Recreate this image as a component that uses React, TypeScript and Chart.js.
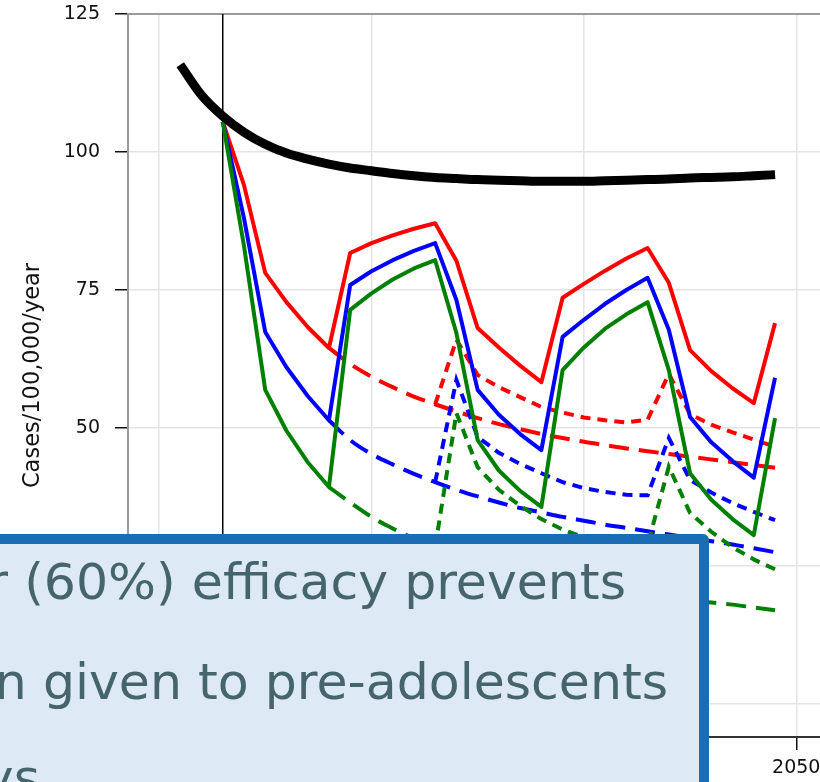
import React, { useEffect, useRef } from "react";
import { Chart, registerables } from "chart.js";

Chart.register(...registerables);

// ---------- data ----------
const years = [
  2021, 2022, 2023, 2024, 2025, 2026, 2027, 2028, 2029, 2030,
  2031, 2032, 2033, 2034, 2035, 2036, 2037, 2038, 2039, 2040,
  2041, 2042, 2043, 2044, 2045, 2046, 2047, 2048, 2049,
];
const solidYears = years.slice(2); // 2023..2049
const dashedYears = years.slice(7); // 2028..2049
const dottedYears = years.slice(12); // 2033..2049

const noVaccine = [
  115.8, 110.3, 106.5, 103.6, 101.4, 99.8, 98.7, 97.8, 97.1, 96.6,
  96.1, 95.7, 95.4, 95.2, 95.0, 94.9, 94.8, 94.7, 94.7, 94.7,
  94.8, 94.9, 95.0, 95.1, 95.3, 95.4, 95.5, 95.7, 95.9,
];

const redSolid = [
  105.5, 94, 78.1, 72.8, 68.3, 64.5, 81.7, 83.5, 84.9, 86.1, 87.1, 80.3, 68.1, 64.6,
  61.3, 58.3, 73.6, 76.1, 78.5, 80.7, 82.6, 76.3, 64.1, 60.3, 57.2, 54.5, 69.0,
];
const blueSolid = [
  105.5, 88, 67.4, 61.0, 55.8, 51.4, 75.9, 78.4, 80.4, 82.1, 83.5, 73.2, 56.9, 52.4,
  48.9, 46.0, 66.5, 69.6, 72.5, 75.0, 77.2, 67.8, 52.0, 47.4, 44.0, 41.0, 59.1,
];
const greenSolid = [
  105.5, 83, 56.9, 49.5, 43.8, 39.3, 71.4, 74.4, 76.9, 78.9, 80.4, 67.2, 47.8, 42.3,
  38.6, 35.7, 60.5, 64.6, 68.0, 70.6, 72.8, 60.5, 41.8, 37.0, 33.5, 30.6, 51.8,
];

const redDashed = [
  64.5, 61.6, 59.3, 57.4, 55.7, 54.3, 53.0, 51.8, 50.7, 49.8, 48.9,
  48.2, 47.5, 46.9, 46.3, 45.8, 45.3, 44.8, 44.3, 43.8, 43.3, 42.8,
];
const blueDashed = [
  51.4, 47.8, 45.3, 43.4, 41.7, 40.2, 38.8, 37.6, 36.5, 35.5, 34.7,
  33.9, 33.2, 32.5, 31.9, 31.3, 30.7, 30.1, 29.5, 28.9, 28.2, 27.5,
];
const greenDashed = [
  39.3, 36.5, 33.9, 31.8, 30.0, 28.4, 27.0, 25.8, 24.7, 23.7, 22.8,
  22.0, 21.3, 20.7, 20.1, 19.6, 19.2, 18.8, 18.4, 18.0, 17.5, 17.0,
];

const redDotted = [
  54.3, 66.0, 59.6, 57.4, 55.6, 53.8, 52.8, 51.9, 51.4, 51.0, 51.5, 59.8, 52.5, 50.6, 49.2, 47.9, 46.6,
];
const blueDotted = [
  40.2, 58.7, 48.4, 45.5, 43.5, 41.8, 40.2, 39.1, 38.4, 37.9, 37.8, 48.2, 40.6, 38.3, 36.4, 34.8, 33.3,
];
const greenDotted = [
  28.4, 52.7, 42.9, 38.8, 35.9, 33.5, 31.6, 30.2, 29.4, 28.9, 28.8, 43.0, 34.6, 31.2, 28.4, 26.2, 24.4,
];

const yTicks = [0, 25, 50, 75, 100, 125];
const xTicks = [2020, 2030, 2040, 2050];
const xRange = [2018.54, 2053.0];
const yRange = [-5.98, 125];
const interventionYear = 2023;
const yAxisTitle = "Cases/100,000/year";
const calloutLines = ["r (60%) efficacy prevents", "n given to pre-adolescents", "ys"];

// ---------- styling ----------
const CANVAS_W = 860;
const CANVAS_H = 800;
const AXIS_LEFT = 128;
const AXIS_BOTTOM = 737;
const PLOT_TOP = 14;

const pts = (xs: number[], ys: number[]) => xs.map((x, i) => ({ x, y: ys[i] }));

const RED = "#ff0000";
const BLUE = "#0000ff";
const GREEN = "#008000";

function solid(label: string, xs: number[], ys: number[], color: string) {
  return {
    label,
    data: pts(xs, ys),
    borderColor: color,
    borderWidth: 4,
    pointRadius: 0,
    tension: 0,
    borderJoinStyle: "round" as const,
    borderCapStyle: "butt" as const,
  };
}
function dashed(label: string, xs: number[], ys: number[], color: string) {
  return {
    label,
    data: pts(xs, ys),
    borderColor: color,
    borderWidth: 4,
    pointRadius: 0,
    cubicInterpolationMode: "monotone" as const,
    borderDash: [20, 10],
    borderCapStyle: "butt" as const,
  };
}
function dotted(label: string, xs: number[], ys: number[], color: string) {
  return {
    label,
    data: pts(xs, ys),
    borderColor: color,
    borderWidth: 4,
    pointRadius: 0,
    tension: 0,
    borderDash: [10, 7],
    borderCapStyle: "butt" as const,
  };
}

const framePlugin = {
  id: "frameAndMarker",
  beforeDatasetsDraw(chart: any) {
    const { ctx, chartArea, scales } = chart;
    ctx.save();
    ctx.strokeStyle = "#9a9a9a";
    ctx.lineWidth = 2;
    ctx.beginPath();
    ctx.moveTo(chartArea.left, chartArea.top);
    ctx.lineTo(chartArea.right, chartArea.top);
    ctx.stroke();
    const x = scales.x.getPixelForValue(interventionYear);
    ctx.strokeStyle = "#000";
    ctx.lineWidth = 1.5;
    ctx.beginPath();
    ctx.moveTo(x, chartArea.top);
    ctx.lineTo(x, chartArea.bottom);
    ctx.stroke();
    ctx.restore();
  },
};

export default function App() {
  const ref = useRef<HTMLCanvasElement | null>(null);

  useEffect(() => {
    if (!ref.current) return;
    const chart = new Chart(ref.current, {
      type: "line",
      data: {
        datasets: [
          {
            label: "No vaccine",
            data: pts(years, noVaccine),
            borderColor: "#000",
            borderWidth: 9,
            pointRadius: 0,
            cubicInterpolationMode: "monotone" as const,
            borderCapStyle: "butt" as const,
          },
          solid("Green", solidYears, greenSolid, GREEN),
          solid("Blue", solidYears, blueSolid, BLUE),
          solid("Red", solidYears, redSolid, RED),
          dotted("Green booster", dottedYears, greenDotted, GREEN),
          dotted("Blue booster", dottedYears, blueDotted, BLUE),
          dotted("Red booster", dottedYears, redDotted, RED),
          dashed("Green single", dashedYears, greenDashed, GREEN),
          dashed("Blue single", dashedYears, blueDashed, BLUE),
          dashed("Red single", dashedYears, redDashed, RED),
        ],
      },
      options: {
        animation: false,
        responsive: false,
        events: [],
        layout: { padding: { top: PLOT_TOP, left: 0, right: 0, bottom: 0 } },
        plugins: { legend: { display: false }, tooltip: { enabled: false } },
        scales: {
          x: {
            type: "linear",
            min: xRange[0],
            max: xRange[1],
            afterFit: (s: any) => {
              s.height = CANVAS_H - AXIS_BOTTOM;
              s.paddingLeft = 0;
              s.paddingRight = 0;
            },
            afterBuildTicks: (s: any) => {
              s.ticks = xTicks.map((v) => ({ value: v }));
            },
            grid: {
              color: "#e4e4e4",
              lineWidth: 1.5,
              tickColor: "#111",
              tickLength: 13,
              tickWidth: 1.5,
            },
            border: { color: "#333", width: 2 },
            ticks: {
              padding: 7,
              color: "#111",
              maxRotation: 0,
              autoSkip: false,
              font: { family: "DejaVu Sans", size: 19 },
              callback: (v: any) => String(v),
            },
          },
          y: {
            type: "linear",
            min: yRange[0],
            max: yRange[1],
            afterFit: (s: any) => {
              s.width = AXIS_LEFT;
              s.paddingTop = 0;
              s.paddingBottom = 0;
            },
            afterBuildTicks: (s: any) => {
              s.ticks = yTicks.map((v) => ({ value: v }));
            },
            grid: {
              color: "#e4e4e4",
              lineWidth: 1.5,
              tickColor: "#111",
              tickLength: 13,
              tickWidth: 1.5,
            },
            border: { color: "#9a9a9a", width: 2 },
            ticks: {
              padding: 15,
              color: "#111",
              font: { family: "DejaVu Sans", size: 19 },
              callback: (v: any) => String(v),
            },
            title: {
              display: true,
              text: yAxisTitle,
              color: "#111",
              font: { family: "DejaVu Sans", size: 22.5 },
              padding: { top: 19.5, bottom: 0 },
            },
          },
        },
      },
      plugins: [framePlugin],
    });
    return () => chart.destroy();
  }, []);

  const lineStyle = (right: number, top: number): React.CSSProperties => ({
    position: "absolute",
    right: 820 - right,
    top,
    whiteSpace: "nowrap",
    fontFamily: "'DejaVu Sans', sans-serif",
    fontWeight: 400,
    fontSize: 50.5,
    lineHeight: "50.5px",
    color: "#45646c",
  });

  return (
    <div
      style={{
        position: "fixed",
        left: 0,
        top: 0,
        width: 820,
        height: 782,
        overflow: "hidden",
        background: "#fff",
      }}
    >
      <canvas
        ref={ref}
        width={CANVAS_W}
        height={CANVAS_H}
        style={{ position: "absolute", left: 0, top: 0, width: CANVAS_W, height: CANVAS_H }}
      />
      <div
        style={{
          position: "absolute",
          left: -30,
          top: 534,
          width: 739,
          height: 320,
          boxSizing: "border-box",
          border: "10px solid #1a6db4",
          borderTopRightRadius: 6,
          background: "#dde9f5",
        }}
      />
      <div style={lineStyle(626, 557)}>{calloutLines[0]}</div>
      <div style={lineStyle(668, 657)}>{calloutLines[1]}</div>
      <div style={lineStyle(40, 753)}>{calloutLines[2]}</div>
    </div>
  );
}
